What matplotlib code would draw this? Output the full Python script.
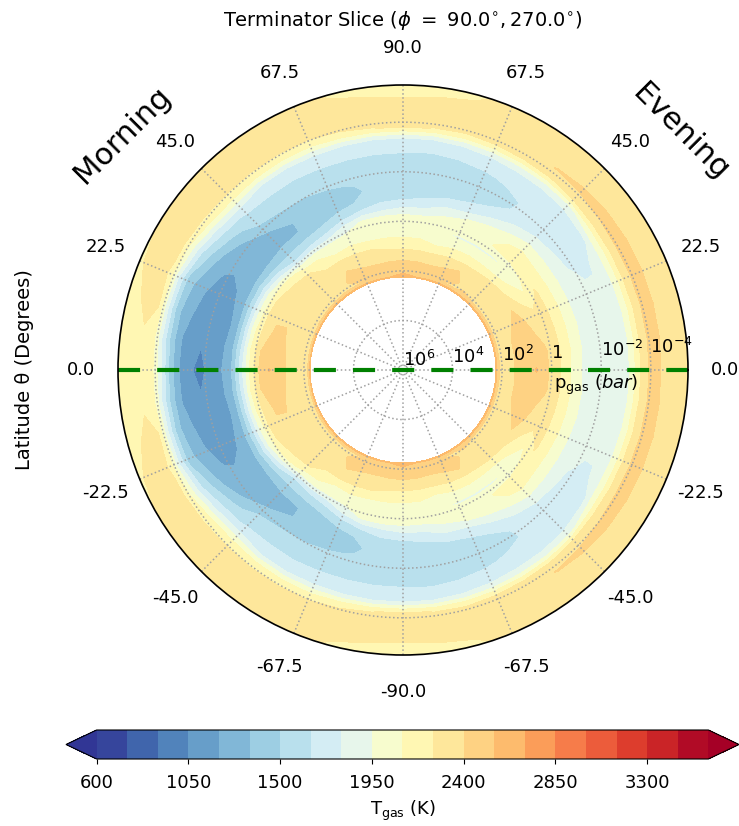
import numpy as np
import matplotlib
matplotlib.use('Agg')
import matplotlib.pyplot as plt

# pressure levels (log10 bar) and latitudes of the table rows
log_p = [2.25, 2.1, 1.8, 1.4, 1.0, 0.6, 0.2, -0.2, -0.6, -1.0, -1.4,
         -1.8, -2.2, -2.6, -3.0, -3.4, -3.8, -4.2, -4.6, -5.0, -5.5]
lat_deg = [0, 7.5, 15, 22.5, 30, 37.5, 45, 52.5, 60, 67.5, 75, 82.5, 90]

# gas temperature (K), one row per latitude, one column per pressure
T_evening = [
    [2600, 2400, 2280, 2430, 2500, 2560, 2430, 2300, 2170, 2010, 1900, 1860, 1850, 1850, 1860, 2110, 2380, 2440, 2360, 2350, 2330],
    [2600, 2400, 2300, 2420, 2480, 2500, 2420, 2310, 2180, 2020, 1910, 1860, 1850, 1850, 1860, 2110, 2380, 2440, 2370, 2350, 2330],
    [2600, 2400, 2350, 2410, 2470, 2420, 2360, 2290, 2170, 2020, 1910, 1860, 1840, 1840, 1860, 2100, 2380, 2440, 2375, 2350, 2330],
    [2600, 2400, 2360, 2380, 2440, 2380, 2300, 2280, 2160, 2010, 1900, 1840, 1820, 1820, 1860, 2100, 2380, 2440, 2375, 2350, 2330],
    [2600, 2400, 2360, 2340, 2390, 2240, 2130, 2270, 2140, 2000, 1890, 1810, 1780, 1785, 1860, 2090, 2380, 2440, 2375, 2350, 2330],
    [2600, 2400, 2350, 2320, 2280, 2130, 2040, 2180, 2130, 2000, 1880, 1760, 1720, 1730, 1770, 2050, 2370, 2430, 2375, 2350, 2330],
    [2600, 2400, 2340, 2300, 2260, 2060, 1950, 2130, 2150, 2040, 1840, 1750, 1700, 1690, 1720, 1900, 2340, 2420, 2370, 2350, 2330],
    [2600, 2420, 2370, 2400, 2230, 2060, 1930, 2120, 2080, 1930, 1790, 1690, 1660, 1670, 1700, 1880, 2270, 2405, 2360, 2340, 2320],
    [2600, 2390, 2420, 2400, 2220, 2070, 1930, 2040, 2020, 1830, 1680, 1610, 1630, 1660, 1700, 1870, 2250, 2350, 2340, 2330, 2310],
    [2600, 2400, 2430, 2380, 2210, 2060, 1935, 2040, 1940, 1720, 1620, 1570, 1580, 1640, 1690, 1840, 2240, 2340, 2330, 2300, 2280],
    [2600, 2410, 2440, 2340, 2190, 1990, 1960, 2000, 1900, 1680, 1600, 1570, 1560, 1620, 1690, 1820, 2230, 2330, 2300, 2270, 2230],
    [2600, 2410, 2460, 2340, 2200, 2080, 2040, 1980, 1790, 1640, 1590, 1560, 1560, 1610, 1680, 1810, 2240, 2320, 2300, 2260, 2210],
    [2600, 2560, 2470, 2350, 2210, 2090, 2050, 1990, 1780, 1600, 1590, 1560, 1560, 1620, 1690, 1810, 2270, 2320, 2300, 2250, 2210],
]
T_morning = [
    [2600, 2300, 2260, 2360, 2480, 2560, 2420, 2100, 1680, 1280, 1180, 1100, 1000, 1070, 1170, 1430, 1850, 2190, 2230, 2230, 2200],
    [2600, 2300, 2280, 2370, 2440, 2460, 2400, 2100, 1640, 1270, 1160, 1080, 1060, 1110, 1190, 1410, 1790, 2190, 2240, 2240, 2210],
    [2600, 2320, 2320, 2370, 2410, 2430, 2310, 2060, 1610, 1220, 1170, 1100, 1130, 1170, 1240, 1400, 1800, 2255, 2270, 2245, 2220],
    [2600, 2340, 2340, 2370, 2395, 2380, 2290, 2000, 1580, 1270, 1180, 1130, 1160, 1210, 1300, 1450, 1800, 2240, 2290, 2270, 2240],
    [2600, 2360, 2350, 2340, 2330, 2310, 2240, 1950, 1550, 1290, 1230, 1205, 1215, 1300, 1470, 1650, 1950, 2270, 2300, 2280, 2250],
    [2600, 2370, 2340, 2320, 2300, 2290, 2200, 1800, 1480, 1300, 1270, 1260, 1310, 1450, 1600, 1810, 2100, 2290, 2310, 2290, 2260],
    [2600, 2380, 2340, 2310, 2280, 2270, 2040, 1620, 1470, 1330, 1310, 1340, 1490, 1570, 1670, 1860, 2150, 2300, 2320, 2300, 2270],
    [2600, 2400, 2370, 2390, 2270, 2170, 2030, 1670, 1480, 1345, 1345, 1430, 1530, 1600, 1680, 1800, 2130, 2310, 2320, 2300, 2280],
    [2600, 2390, 2420, 2400, 2290, 2090, 2000, 1700, 1510, 1420, 1400, 1460, 1530, 1600, 1680, 1800, 2120, 2320, 2330, 2310, 2290],
    [2600, 2400, 2430, 2380, 2270, 2110, 2010, 1850, 1580, 1460, 1450, 1490, 1540, 1620, 1680, 1810, 2130, 2330, 2330, 2310, 2280],
    [2600, 2410, 2440, 2350, 2260, 2090, 2030, 1980, 1670, 1510, 1480, 1510, 1550, 1620, 1690, 1810, 2200, 2330, 2320, 2270, 2240],
    [2600, 2420, 2460, 2340, 2220, 2090, 2050, 1990, 1720, 1590, 1540, 1550, 1570, 1620, 1690, 1810, 2240, 2320, 2300, 2260, 2210],
    [2600, 2560, 2470, 2350, 2210, 2090, 2050, 1990, 1780, 1600, 1590, 1560, 1560, 1620, 1690, 1810, 2270, 2320, 2300, 2250, 2210],
]

T_levels = np.arange(600, 3601, 150)
cbar_ticks = [600, 1050, 1500, 1950, 2400, 2850, 3300]
r_tick_p = [6, 4, 2, 0, -2, -4]
r_tick_labels = ['$10^{6}$', '$10^{4}$', '$10^{2}$', '$1$', '$10^{-2}$', '$10^{-4}$']
theta_labels = ['0.0', '22.5', '45.0', '67.5', '90.0', '67.5', '45.0', '22.5',
                '0.0', '-22.5', '-45.0', '-67.5', '-90.0', '-67.5', '-45.0', '-22.5']

W, H = 739, 826
fig = plt.figure(figsize=(W / 100, H / 100), dpi=100)
ax = fig.add_axes([118 / W, 1 - 655 / H, 570 / W, 570 / H], polar=True)

# walk round the circle: south pole -> evening -> north pole -> morning -> south pole
lat = np.array(lat_deg)
eve = np.array(T_evening)
mor = np.array(T_morning)
theta = np.concatenate([-lat[:0:-1], lat, 180 - lat[-2::-1], 180 + lat[1:]])
T_all = np.vstack([eve[:0:-1], eve, mor[-2::-1], mor[1:]])
r = 6 - np.array(log_p)
rr, tt = np.meshgrid(r, np.radians(theta))

cs = ax.contourf(tt, rr, T_all, levels=T_levels, cmap='RdYlBu_r', extend='both')

ax.plot([np.pi, 0, 0], [11.5, 0, 11.5], color='green', lw=3, dashes=(5.3, 4.1),
        dash_capstyle='butt')

ax.set_rlim(0, 11.5)
ax.set_rticks([6 - p for p in r_tick_p])
ax.set_yticklabels(r_tick_labels, fontsize=13)
ax.set_rlabel_position(3)
ax.set_thetagrids(np.arange(0, 360, 22.5), theta_labels, fontsize=13)
ax.tick_params(axis='x', pad=16)
ax.grid(True, color='#a0a0a0', linestyle=':', lw=1.1)
ax.spines['polar'].set_linewidth(1.2)

fig.text(403 / W, 1 - 21 / H, r'Terminator Slice ($\phi\ =\ 90.0^{\circ}, 270.0^{\circ}$)',
         ha='center', va='center', fontsize=14)
fig.text(25 / W, 1 - 370 / H, 'Latitude θ (Degrees)', rotation=90,
         ha='center', va='center', fontsize=14)
fig.text(122 / W, 1 - 135 / H, 'Morning', rotation=45, ha='center', va='center', fontsize=22)
fig.text(681 / W, 1 - 132 / H, 'Evening', rotation=-45, ha='center', va='center', fontsize=22)
fig.text(596 / W, 1 - 385 / H, r'p$_{\rm gas}$ ($bar$)', ha='center', va='center', fontsize=13)

cax = fig.add_axes([66 / W, 1 - 759 / H, 673 / W, 29 / H])
cbar = fig.colorbar(cs, cax=cax, orientation='horizontal', ticks=cbar_ticks)
cbar.ax.tick_params(labelsize=13, pad=7)
cbar.set_label(r'T$_{\rm gas}$ (K)', fontsize=13, labelpad=5)

plt.savefig('out.png', dpi=100)
